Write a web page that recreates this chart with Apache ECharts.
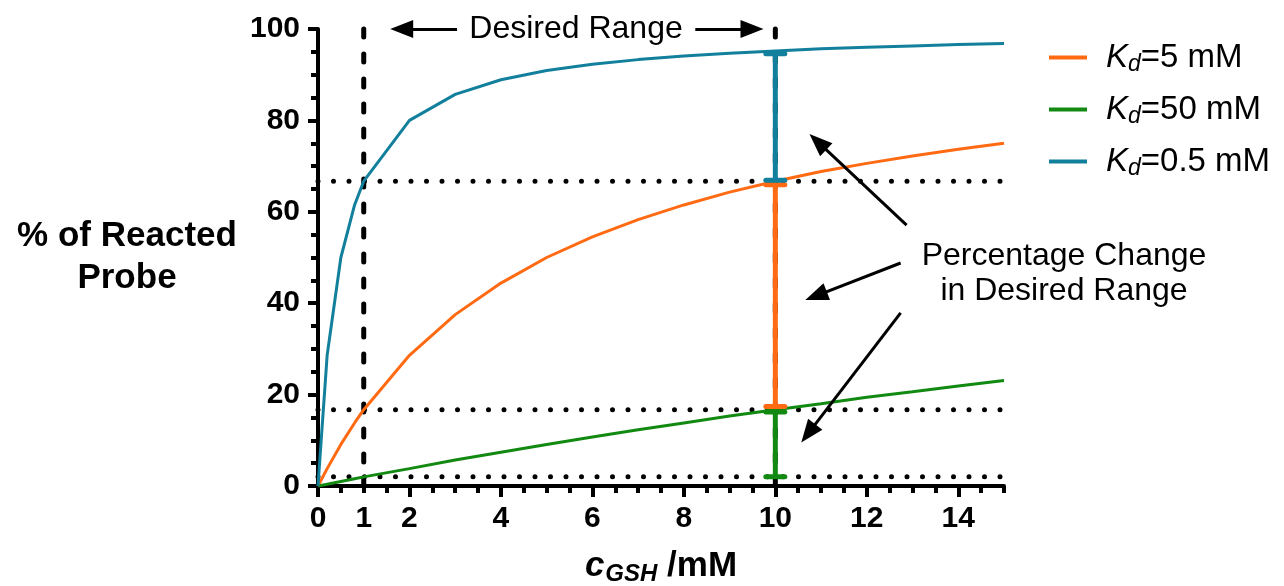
<!DOCTYPE html>
<html>
<head>
<meta charset="utf-8">
<title>% of Reacted Probe vs c(GSH)</title>
<script src="https://cdn.jsdelivr.net/npm/echarts@6/dist/echarts.min.js"></script>
<style>
  html, body { margin: 0; padding: 0; background: #fff; }
  #chart { width: 1284px; height: 586px; }
</style>
</head>
<body>
<div id="chart"></div>
<script>
// c(GSH) in mM
const concentrations = [0, 0.2, 0.5, 0.8, 1, 2, 3, 4, 5, 6, 7, 8, 9, 10, 11, 12, 13, 14, 15]
// % of reacted probe
const kd05 = [0, 28.6, 50, 61.5, 66.7, 80, 85.7, 88.9, 90.9, 92.3, 93.3, 94.1, 94.7, 95.2, 95.7, 96.0, 96.3, 96.6, 96.8]
const kd5 = [0, 3.8, 9.1, 13.8, 16.7, 28.6, 37.5, 44.4, 50, 54.5, 58.3, 61.5, 64.3, 66.7, 68.8, 70.6, 72.2, 73.7, 75]
const kd50 = [0, 0.4, 1.0, 1.6, 2.0, 3.8, 5.7, 7.4, 9.1, 10.7, 12.3, 13.8, 15.3, 16.7, 18.0, 19.4, 20.6, 21.9, 23.1]

const seriesNames = ['Kd=5 mM', 'Kd=50 mM', 'Kd=0.5 mM']
const legendParts = { 'Kd=5 mM': '=5 mM', 'Kd=50 mM': '=50 mM', 'Kd=0.5 mM': '=0.5 mM' }

const xLabelValues = [0, 1, 2, 4, 6, 8, 10, 12, 14]
const xMajorTicks = [0, 2, 4, 6, 8, 10, 12, 14]

// dotted levels and dashed limits of the desired range
const refLevels = [66.7, 16.7, 2.0]
const rangeLimits = [1, 10]

// change bars at 10 mM: green, orange, teal
const barX = 10
const barLow = [2.0, 17.4, 66.9]
const barHigh = [16.2, 65.9, 94.6]

const ORANGE = '#ff6a13'
const GREEN = '#128a12'
const TEAL = '#12809c'
const barColors = [GREEN, ORANGE, TEAL]
const FONT = '"Liberation Sans", Arial, Helvetica, sans-serif'

const pairs = (xs, ys) => xs.map((x, i) => [x, ys[i]])

const chart = echarts.init(document.getElementById('chart'))

const refSeries = []
refLevels.forEach(v => {
  refSeries.push({
    type: 'line',
    data: [[0, v], [15, v]],
    symbol: 'none',
    silent: true,
    z: 1,
    lineStyle: { color: '#000', width: 5, type: [0, 15.5], cap: 'round' }
  })
})
rangeLimits.forEach((v, i) => {
  refSeries.push({
    type: 'line',
    data: [[v, 100], [v, 0]],
    symbol: 'none',
    silent: true,
    clip: false,
    z: 1,
    lineStyle: { color: '#000', width: 5, type: [8, 17], cap: 'round' },
    // arrows of the annotations, in data coordinates
    markLine: i === 1 ? {
      silent: true,
      symbol: ['none', 'triangle'],
      symbolSize: [18, 23],
      label: { show: false },
      lineStyle: { type: 'solid', color: '#000', width: 3 },
      itemStyle: { color: '#000' },
      data: [
        [{ coord: [3.04, 100] }, { coord: [1.83, 100] }],
        [{ coord: [8.25, 100] }, { coord: [9.49, 100] }],
        [{ coord: [12.87, 57.1] }, { coord: [10.93, 75.3] }],
        [{ coord: [12.74, 48.8] }, { coord: [10.89, 41.6] }],
        [{ coord: [12.74, 37.9] }, { coord: [10.72, 11.5] }]
      ]
    } : undefined
  })
})

const option = {
  animation: false,
  backgroundColor: '#fff',
  textStyle: { fontFamily: FONT },
  grid: { left: 318, right: 280, top: 29, bottom: 100, outerBoundsMode: 'none' },
  legend: {
    orient: 'vertical',
    left: 1044,
    top: 36,
    icon: 'rect',
    itemWidth: 38,
    itemHeight: 4,
    itemGap: 17,
    data: seriesNames,
    selectedMode: false,
    formatter: name => '{k|K}{d|d}{t|' + legendParts[name] + '}',
    textStyle: {
      padding: [0, 0, 0, 14],
      rich: {
        k: { fontSize: 33, fontStyle: 'italic', color: '#000', fontFamily: FONT },
        d: { fontSize: 23, fontStyle: 'italic', color: '#000', fontFamily: FONT, padding: [14, 0, 0, 0] },
        t: { fontSize: 33, color: '#000', fontFamily: FONT }
      }
    }
  },
  xAxis: [{
    type: 'value',
    min: 0,
    max: 15,
    interval: 0.5,
    axisLine: { lineStyle: { color: '#000', width: 4 } },
    axisTick: { length: 7, lineStyle: { color: '#000', width: 4 } },
    axisLabel: { show: false },
    splitLine: { show: false }
  }, {
    type: 'value',
    min: 0,
    max: 15,
    interval: 1,
    position: 'bottom',
    axisLine: { show: false },
    axisTick: { show: true, customValues: xMajorTicks, length: 11, lineStyle: { color: '#000', width: 4 } },
    axisLabel: {
      customValues: xLabelValues,
      fontSize: 30, fontWeight: 'bold', color: '#000', margin: 18, fontFamily: FONT
    },
    splitLine: { show: false },
    name: '{c|c}{s|GSH}{m| /mM}',
    nameLocation: 'middle',
    nameGap: 60,
    nameTextStyle: {
      rich: {
        c: { fontSize: 35, fontWeight: 'bold', fontStyle: 'italic', color: '#000', fontFamily: FONT },
        s: { fontSize: 24, fontWeight: 'bold', fontStyle: 'italic', color: '#000', fontFamily: FONT, padding: [16, 0, 0, 1] },
        m: { fontSize: 35, fontWeight: 'bold', color: '#000', fontFamily: FONT }
      }
    }
  }],
  yAxis: {
    type: 'value',
    min: 0,
    max: 100,
    interval: 20,
    axisLine: { show: true, lineStyle: { color: '#000', width: 4 } },
    axisTick: { show: true, length: 10, lineStyle: { color: '#000', width: 4 } },
    minorTick: { show: true, splitNumber: 4, length: 7, lineStyle: { color: '#000', width: 4 } },
    axisLabel: { fontSize: 30, fontWeight: 'bold', color: '#000', margin: 18, fontFamily: FONT },
    splitLine: { show: false },
    name: '% of Reacted\nProbe',
    nameLocation: 'middle',
    nameRotate: 0,
    nameGap: 191,
    nameTextStyle: { fontSize: 35, fontWeight: 'bold', color: '#000', lineHeight: 42, align: 'center', fontFamily: FONT }
  },
  graphic: [{
    type: 'text',
    x: 576,
    y: 29,
    style: { text: 'Desired Range', font: '32px ' + FONT, fill: '#000', align: 'center', verticalAlign: 'middle' }
  }, {
    type: 'text',
    x: 1064,
    y: 274,
    style: {
      text: 'Percentage Change\nin Desired Range', font: '32px ' + FONT, fill: '#000',
      lineHeight: 35, align: 'center', verticalAlign: 'middle'
    }
  }],
  series: [
    ...refSeries,
    { name: 'Kd=5 mM', type: 'line', data: pairs(concentrations, kd5), symbol: 'none', z: 3,
      itemStyle: { color: ORANGE }, lineStyle: { color: ORANGE, width: 3 } },
    { name: 'Kd=50 mM', type: 'line', data: pairs(concentrations, kd50), symbol: 'none', z: 3,
      itemStyle: { color: GREEN }, lineStyle: { color: GREEN, width: 3 } },
    { name: 'Kd=0.5 mM', type: 'line', data: pairs(concentrations, kd05), symbol: 'none', z: 3,
      itemStyle: { color: TEAL }, lineStyle: { color: TEAL, width: 3 } },
    {
      type: 'custom',
      silent: true,
      z: 4,
      data: barLow.map((lo, i) => ({ value: [barX, lo, barHigh[i]], itemStyle: { color: barColors[i] } })),
      renderItem: (params, api) => {
        const lo = api.coord([api.value(0), api.value(1)])
        const hi = api.coord([api.value(0), api.value(2)])
        const color = api.visual('color')
        return {
          type: 'group',
          children: [
            { type: 'line', shape: { x1: lo[0], y1: lo[1], x2: hi[0], y2: hi[1] }, style: { stroke: color, lineWidth: 5 } },
            { type: 'rect', shape: { x: lo[0] - 12, y: lo[1] - 2.5, width: 24, height: 5, r: 2.5 }, style: { fill: color } },
            { type: 'rect', shape: { x: hi[0] - 12, y: hi[1] - 2.5, width: 24, height: 5, r: 2.5 }, style: { fill: color } }
          ]
        }
      }
    }
  ]
}

chart.setOption(option)
</script>
</body>
</html>
